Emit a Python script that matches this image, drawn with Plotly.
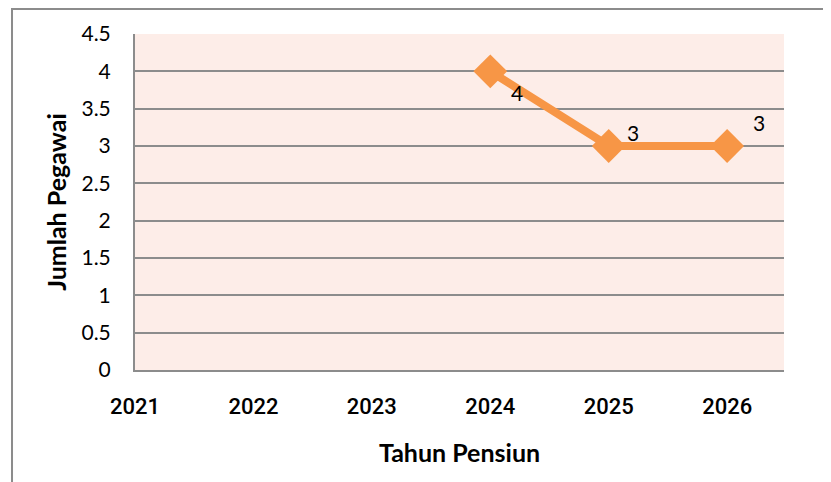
import plotly.graph_objects as go

years = [2021, 2022, 2023, 2024, 2025, 2026]
tahun = [2024, 2025, 2026]
jumlah = [4, 3, 3]
label_shift = [(27, -21), (24, 14), (32, 24)]
y_ticks = [0, 0.5, 1, 1.5, 2, 2.5, 3, 3.5, 4, 4.5]
y_tick_text = ["0", "0.5", "1", "1.5", "2", "2.5", "3", "3.5", "4", "4.5"]

orange = "#F79646"

fig = go.Figure()
fig.add_trace(go.Scatter(
    x=tahun, y=jumlah, mode="lines+markers",
    line=dict(color=orange, width=8),
    marker=dict(symbol="diamond", size=26, color=orange),
    showlegend=False, hoverinfo="skip",
))

for xv, yv, (dx, dy) in zip(tahun, jumlah, label_shift):
    fig.add_annotation(x=xv, y=yv, text=str(yv), showarrow=False,
                       xshift=dx, yshift=dy,
                       font=dict(family="Lato", size=21, color="black"))

fig.add_shape(type="rect", xref="paper", yref="paper",
              x0=-0.1895, x1=1.08, y0=-0.36, y1=1.0744,
              line=dict(color="#8c8c8c", width=2), fillcolor="rgba(0,0,0,0)",
              layer="below")

fig.update_layout(
    width=823, height=474,
    margin=dict(l=127, r=47, t=26, b=112),
    paper_bgcolor="white",
    plot_bgcolor="#FDEDE8",
    xaxis=dict(
        range=[2021, 2026.48],
        tickmode="array", tickvals=years, ticktext=[str(y) for y in years],
        showgrid=False, zeroline=False,
        showline=True, linecolor="#8c8c8c", linewidth=2,
        ticks="", ticklabelstandoff=16,
        tickfont=dict(family="Roboto", size=22, color="black", weight=500),
        title=dict(text="<b>Tahun Pensiun</b>", standoff=26,
                   font=dict(family="Lato", size=25, color="black")),
    ),
    yaxis=dict(
        range=[0, 4.5],
        tickmode="array", tickvals=y_ticks, ticktext=y_tick_text,
        showgrid=True, gridcolor="#8c8c8c", gridwidth=1.5,
        zeroline=False,
        showline=True, linecolor="#8c8c8c", linewidth=2,
        ticks="", ticklabelstandoff=18,
        tickfont=dict(family="Lato", size=21, color="black"),
        title=dict(text="<b>Jumlah Pegawai</b>", standoff=8,
                   font=dict(family="Lato", size=25, color="black")),
    ),
)

fig.write_html("out.html")
